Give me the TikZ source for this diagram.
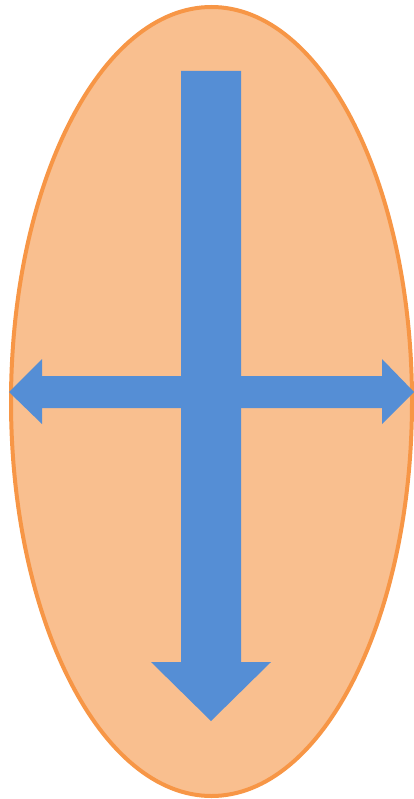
\documentclass[tikz,border=0pt]{standalone}
\definecolor{ovalfill}{RGB}{249,191,143}
\definecolor{ovalline}{RGB}{247,150,70}
\definecolor{arrowblue}{RGB}{85,142,213}
\tikzset{oval/.style={fill=ovalfill,draw=ovalline,line width=4pt},
  blockarrow/.style={fill=arrowblue,draw=none}}
\begin{document}
\begin{tikzpicture}[x=1pt,y=-1pt]
\useasboundingbox (0,0) rectangle (414,799);
\draw[oval] (211.5,401.5) ellipse [x radius=200.5, y radius=394.5];
% horizontal double arrow
\fill[blockarrow] (9,392) -- (42,359) -- (42,376) -- (382,376) -- (382,359) -- (414,392)
  -- (382,424) -- (382,408) -- (42,408) -- (42,424) -- cycle;
% vertical down arrow
\fill[blockarrow] (181,71) -- (241,71) -- (241,662) -- (271,662) -- (211,721)
  -- (151,662) -- (181,662) -- cycle;
\end{tikzpicture}
\end{document}
